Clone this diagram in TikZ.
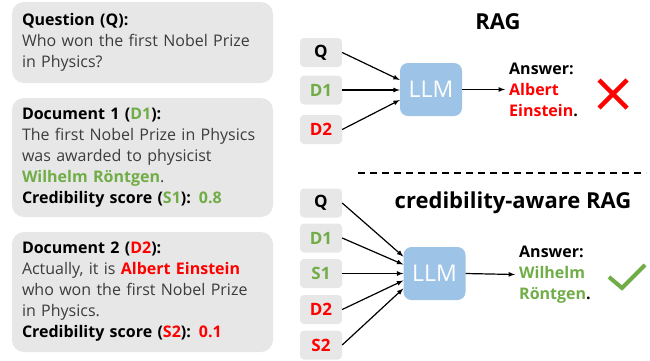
\documentclass[tikz,border=0pt]{standalone}
\usepackage{fontspec}
\setmainfont{Open Sans}
\usetikzlibrary{arrows}

\definecolor{boxgray}{HTML}{E7E7E7}
\definecolor{bodygray}{HTML}{3C3C3C}
\definecolor{llmblue}{HTML}{9DC3E6}
\definecolor{okgreen}{HTML}{70AD47}
\definecolor{badred}{HTML}{FF0000}

\newcommand{\gr}[1]{\textcolor{okgreen}{#1}}
\newcommand{\rd}[1]{\textcolor{badred}{#1}}

\begin{document}
\begin{tikzpicture}[x=1pt, y=-1pt,
  doc/.style={rectangle, rounded corners=12pt, fill=boxgray, text width=241pt, align=left,
    inner xsep=10pt, inner ysep=0pt, text=bodygray, font=\fontsize{16}{21}\selectfont},
  tok/.style={rectangle, rounded corners=4pt, fill=boxgray, minimum width=42pt,
    minimum height=29pt, inner sep=0pt, font=\bfseries\fontsize{17}{18}\selectfont},
  llm/.style={rectangle, rounded corners=8pt, fill=llmblue, minimum width=62pt,
    minimum height=53pt, text=white, font=\fontsize{23}{24}\selectfont},
  ans/.style={align=left, inner sep=4pt, anchor=west, font=\bfseries\fontsize{16}{21}\selectfont},
  ttl/.style={font=\bfseries\fontsize{22}{24}\selectfont}]

\useasboundingbox (0,0) rectangle (650,360);

%left: question and documents
\draw (142.5,42.5) node[doc, minimum height=81pt] (quest) {\textcolor{black}{\textbf{Question (Q):}}\\
Who won the first Nobel Prize\\ in Physics?};
\draw (142.5,157.5) node[doc, minimum height=119pt] (doca) {\textcolor{black}{\textbf{Document 1 (\gr{D1}):}}\\
The first Nobel Prize in Physics\\ was awarded to physicist\\ \textbf{\gr{Wilhelm Röntgen}}.\\
\textcolor{black}{\textbf{Credibility score (\gr{S1}): \gr{0.8}}}};
\draw (142.5,292) node[doc, minimum height=120pt] (docb) {\textcolor{black}{\textbf{Document 2 (\rd{D2}):}}\\
Actually, it is \textbf{\rd{Albert Einstein}}\\ who won the first Nobel Prize\\ in Physics.\\
\textcolor{black}{\textbf{Credibility score (\rd{S2}): \rd{0.1}}}};

%RAG
\draw (498,22) node[ttl] (ragtitle) {RAG};
\draw (321,52.5) node[tok] (rq) {Q};
\draw (321,90) node[tok, text=okgreen] (rda) {D1};
\draw (321,129.5) node[tok, text=badred] (rdb) {D2};
\draw (431,89.5) node[llm] (rllm) {LLM};
\draw (505,89.5) node[ans] (rans) {Answer:\\ \rd{Albert}\\ \rd{Einstein}.};

\draw[->,>=latex, line width=1.2pt] (rq.east) to ([yshift=9.5pt]rllm.west);
\draw[->,>=latex, line width=1.2pt] (rda.east) to (rda.east -| rllm.west);
\draw[->,>=latex, line width=1.2pt] (rdb.east) to ([yshift=-10.5pt]rllm.west);
\draw[->,>=latex, line width=1.2pt] (rllm.east) to (rans.west);

\draw[badred, line width=4.5pt] (599,80) -- (627,108);
\draw[badred, line width=4.5pt] (627,80) -- (599,108);

%separator
\draw[dash pattern=on 7pt off 5pt, line width=1.2pt] (358,173) -- (646,173);

%credibility-aware RAG
\draw (513,203) node[ttl] (crtitle) {credibility-aware RAG};
\draw (321,203) node[tok] (cq) {Q};
\draw (321,238) node[tok, text=okgreen] (cda) {D1};
\draw (321,273.5) node[tok, text=okgreen] (csa) {S1};
\draw (321,309.5) node[tok, text=badred] (cdb) {D2};
\draw (321,345) node[tok, text=badred] (csb) {S2};
\draw (434.5,273.5) node[llm] (cllm) {LLM};
\draw (515,274.5) node[ans] (cans) {Answer:\\ \gr{Wilhelm}\\ \gr{Röntgen}.};

\draw[->,>=latex, line width=1.2pt] (cq.east) to ([yshift=17pt]cllm.west);
\draw[->,>=latex, line width=1.2pt] (cda.east) to ([yshift=9pt]cllm.west);
\draw[->,>=latex, line width=1.2pt] (csa.east) to (cllm.west);
\draw[->,>=latex, line width=1.2pt] (cdb.east) to ([yshift=-7pt]cllm.west);
\draw[->,>=latex, line width=1.2pt] (csb.east) to ([yshift=-15pt]cllm.west);
\draw[->,>=latex, line width=1.2pt] (cllm.east) to (cans.west);

\draw[okgreen, line width=4pt] (609,277) -- (622,288) -- (645,265);

\end{tikzpicture}
\end{document}
